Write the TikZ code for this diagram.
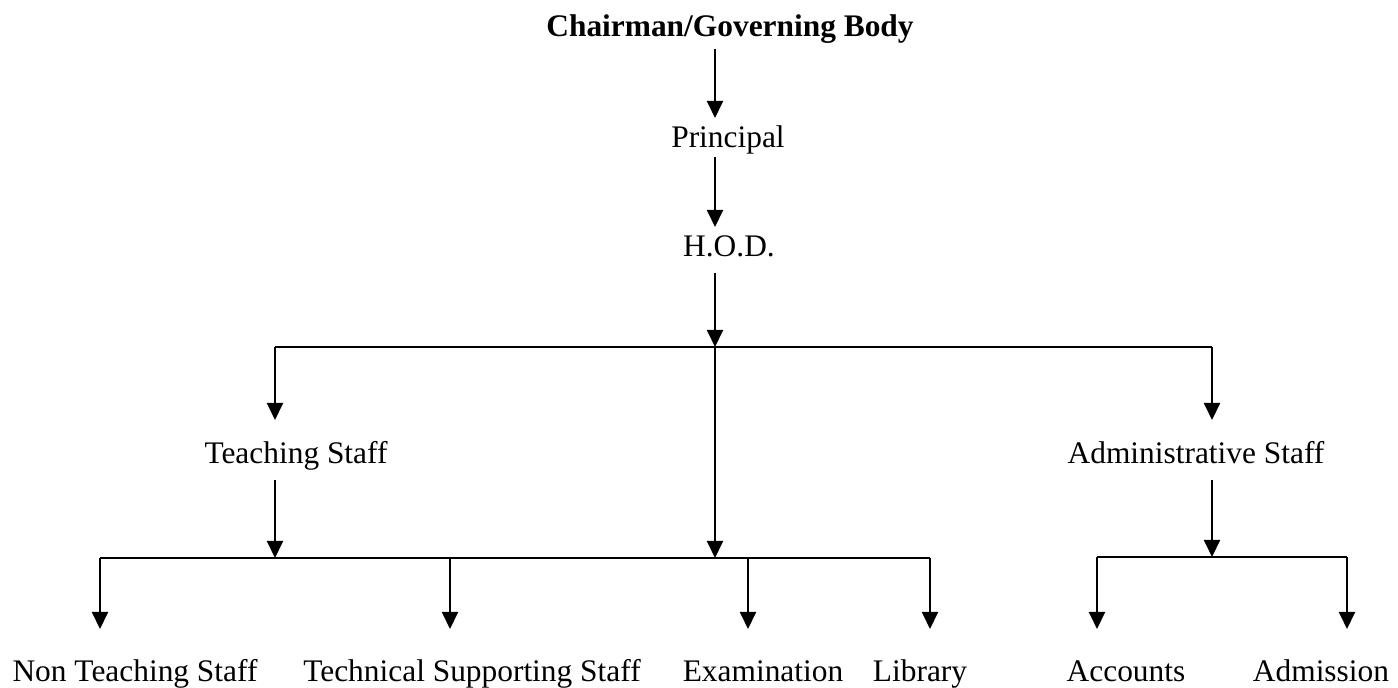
\documentclass[tikz,border=0pt]{standalone}
\usepackage{fontspec}
\setmainfont{Liberation Serif}
\usetikzlibrary{arrows.meta}
\begin{document}
\begin{tikzpicture}[x=0.5pt, y=-0.5pt, line width=1pt,
 >={Triangle[length=8.5pt,width=8pt]},
 lbl/.style={anchor=base, inner sep=4pt, text height=10.5pt, text depth=3.5pt, font=\fontsize{15.7}{18}\selectfont},
 drop/.style={->, shorten >=11.5pt}]

 \useasboundingbox (0,0) rectangle (1398,688);

 \node[lbl, font=\fontsize{15.7}{18}\selectfont\bfseries] (chair) at (730,37) {Chairman/Governing Body};
 \node[lbl] (prin) at (728,148) {Principal};
 \node[lbl] (hod) at (729,257) {H.O.D.};
 \node[lbl] (teach) at (296,464) {Teaching Staff};
 \node[lbl] (admin) at (1196,464) {Administrative Staff};
 \node[lbl] (nts) at (135,682) {Non Teaching Staff};
 \node[lbl] (tss) at (472,682) {Technical Supporting Staff};
 \node[lbl] (exam) at (763,682) {Examination};
 \node[lbl] (lib) at (920,682) {Library};
 \node[lbl] (acc) at (1126,682) {Accounts};
 \node[lbl] (adm) at (1321,682) {Admission};

 \coordinate (spine) at (715,0);
 \coordinate (b1L) at (275,347);
 \coordinate (b1M) at (715,347);
 \coordinate (b1R) at (1212,347);
 \coordinate (b2L) at (100,558);
 \coordinate (b2R) at (930,558);
 \coordinate (b3L) at (1097,557);
 \coordinate (b3R) at (1347,557);

 % top chain
 \draw[->, shorten <=-2pt] (spine |- chair.south) -- (spine |- prin.north);
 \draw[->, shorten <=-3.5pt] (spine |- prin.south) -- (spine |- hod.north);
 \draw[->] (spine |- hod.south) -- (b1M);
 \draw (b1L) -- (b1R);
 \draw[->, shorten >=7pt] (b1L) -- (b1L |- teach.north);
 \draw[->, shorten >=7pt] (b1R) -- (b1R |- admin.north);
 \draw[->] (b1M) -- (b1M |- b2L);

 % teaching side
 \draw[->] (b1L |- teach.south) -- (b1L |- b2L);
 \draw (b2L) -- (b2R);
 \foreach \x/\n in {100/nts, 450/tss, 748/exam, 930/lib}
  \draw[drop] (\x,558) -- (\x,0 |- \n.north);

 % administrative side
 \draw[->] (b1R |- admin.south) -- (b1R |- b3L);
 \draw (b3L) -- (b3R);
 \foreach \x/\n in {1097/acc, 1347/adm}
  \draw[drop] (\x,557) -- (\x,0 |- \n.north);

\end{tikzpicture}
\end{document}
